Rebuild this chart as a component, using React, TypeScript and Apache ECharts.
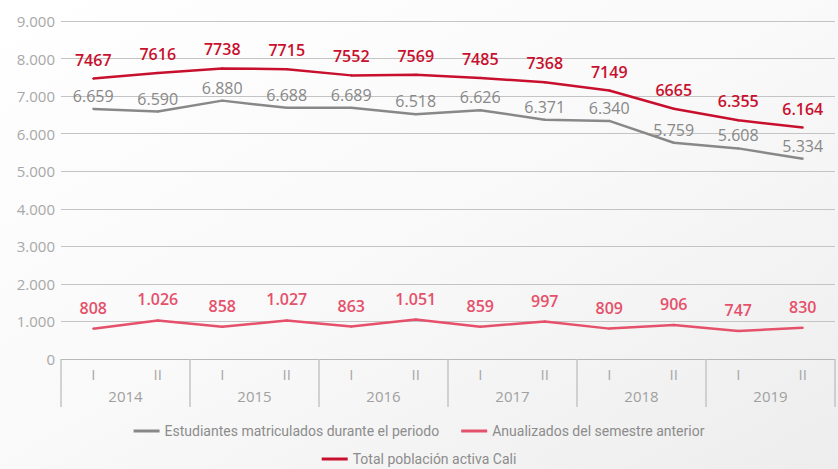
import React, { useEffect, useRef } from "react";
import * as echarts from "echarts";

const semesters = ["I", "II", "I", "II", "I", "II", "I", "II", "I", "II", "I", "II"];
const years = ["2014", "2015", "2016", "2017", "2018", "2019"];
const yTicks = [0, 1000, 2000, 3000, 4000, 5000, 6000, 7000, 8000, 9000];

const estudiantes = [6659, 6590, 6880, 6688, 6689, 6518, 6626, 6371, 6340, 5759, 5608, 5334];
const anualizados = [808, 1026, 858, 1027, 863, 1051, 859, 997, 809, 906, 747, 830];
const totalCali = [7467, 7616, 7738, 7715, 7552, 7569, 7485, 7368, 7149, 6665, 6355, 6164];
const totalCaliLabels = ["7467", "7616", "7738", "7715", "7552", "7569", "7485", "7368", "7149", "6665", "6.355", "6.164"];

const seriesNames = [
  "Estudiantes matriculados durante el periodo",
  "Anualizados del semestre anterior",
  "Total población activa Cali",
];
const seriesColors = ["#888888", "#e5506b", "#c8102e"];

const fmt = (v: number) => {
  const s = String(Math.round(v));
  return s.replace(/\B(?=(\d{3})+(?!\d))/g, ".");
};

const FONT = "'Open Sans', 'Noto Sans', sans-serif";

export default function App() {
  const ref = useRef<HTMLDivElement>(null);
  useEffect(() => {
    if (!ref.current) return;
    const chart = echarts.init(ref.current, null, { renderer: "svg" });
    const mkSeries = (idx: number, data: number[], dist: number, weight: number, fmtFn: (p: any) => string, z: number) => ({
      name: seriesNames[idx],
      type: "line",
      data,
      symbol: "circle",
      symbolSize: 2,
      showSymbol: true,
      showAllSymbol: true,
      itemStyle: { color: seriesColors[idx] },
      color: seriesColors[idx],
      lineStyle: { color: seriesColors[idx], width: 2.5 },
      label: {
        show: true,
        position: "top",
        distance: dist,
        color: seriesColors[idx],
        fontSize: 16,
        fontWeight: weight,
        fontFamily: FONT,
        formatter: fmtFn,
      },
      z,
    });
    const legendBase = {
      left: "center",
      itemWidth: 26,
      itemHeight: 3,
      itemGap: 22,
      icon: "rect",
      padding: 0,
      textStyle: {
        color: "#8c8c8c",
        fontSize: 14,
        fontFamily: "'Roboto', sans-serif",
      },
    };
    chart.setOption({
      animation: false,
      backgroundColor: {
        type: "linear",
        x: 0,
        y: 0,
        x2: 1,
        y2: 1,
        colorStops: [
          { offset: 0, color: "#ffffff" },
          { offset: 0.5, color: "#f9f9f9" },
          { offset: 1, color: "#ededed" },
        ],
      },
      grid: { left: 61, right: 3, top: 21, bottom: 110, containLabel: false },
      legend: [
        {
          ...legendBase,
          top: 424,
          data: [0, 1].map((i) => ({ name: seriesNames[i], itemStyle: { color: seriesColors[i] } })),
        },
        {
          ...legendBase,
          top: 452,
          data: [2].map((i) => ({ name: seriesNames[i], itemStyle: { color: seriesColors[i] } })),
        },
      ],
      xAxis: [
        {
          type: "category",
          data: semesters,
          position: "bottom",
          boundaryGap: true,
          axisLine: { show: true, lineStyle: { color: "#b8b8b8", width: 1 } },
          axisTick: { show: false },
          axisLabel: { color: "#a8a8a8", fontSize: 15, margin: 7, fontFamily: FONT },
        },
        {
          type: "category",
          data: years,
          position: "bottom",
          boundaryGap: true,
          axisLine: { show: false },
          axisTick: { show: true, length: 48, lineStyle: { color: "#c4c4c4", width: 1.5 } },
          axisLabel: { color: "#a0a0a0", fontSize: 15, margin: 29, fontFamily: FONT },
        },
      ],
      yAxis: {
        type: "value",
        min: 0,
        max: 9000,
        interval: 1000,
        axisLine: { show: false },
        axisTick: { show: false },
        splitLine: { lineStyle: { color: "#c4c4c4", width: 1 } },
        axisLabel: {
          color: "#a8a8a8",
          fontSize: 15,
          margin: 6,
          fontFamily: FONT,
          formatter: (v: number) => (yTicks.includes(v) ? fmt(v) : ""),
        },
      },
      series: [
        mkSeries(0, estudiantes, 4, 500, (p: any) => fmt(p.value), 3),
        mkSeries(1, anualizados, 12, 600, (p: any) => fmt(p.value), 3),
        mkSeries(2, totalCali, 10, 600, (p: any) => totalCaliLabels[p.dataIndex], 4),
      ],
    });
    return () => chart.dispose();
  }, []);
  return <div ref={ref} style={{ width: 838, height: 469, position: "absolute", left: 0, top: 0 }} />;
}
